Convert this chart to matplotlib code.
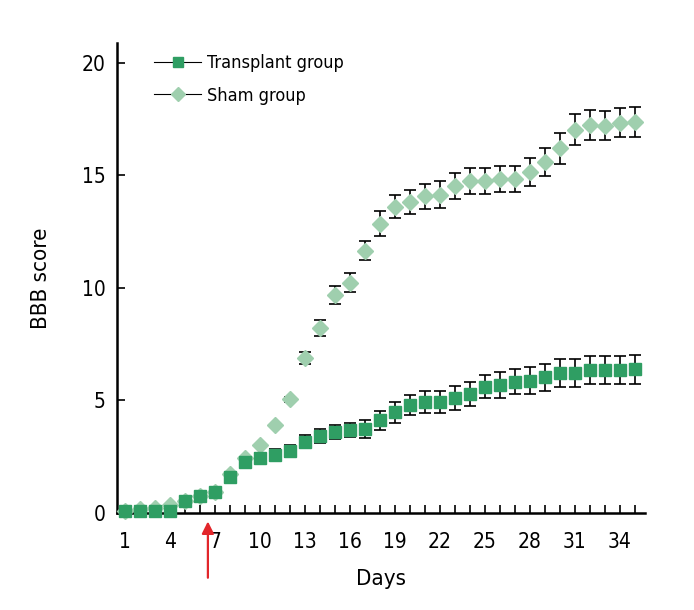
import matplotlib
matplotlib.use("Agg")
import matplotlib.pyplot as plt
from matplotlib.lines import Line2D
import numpy as np

plt.rcParams['font.family'] = ['DejaVu Sans']
plt.rcParams['font.stretch'] = 'condensed'

days = np.arange(1, 36)

transplant = [0.1, 0.1, 0.1, 0.1, 0.55, 0.77, 0.92, 1.62, 2.25, 2.43,
              2.59, 2.76, 3.17, 3.43, 3.6, 3.69, 3.74, 4.13, 4.48, 4.79,
              4.93, 4.93, 5.12, 5.28, 5.62, 5.69, 5.83, 5.88, 6.03, 6.23,
              6.23, 6.35, 6.35, 6.35, 6.38]
transplant_err = [0, 0, 0, 0, 0, 0, 0, 0.1, 0.2, 0.22,
                  0.25, 0.28, 0.3, 0.3, 0.32, 0.32, 0.41, 0.42, 0.46, 0.44,
                  0.47, 0.47, 0.53, 0.52, 0.53, 0.59, 0.56, 0.6, 0.61, 0.63,
                  0.63, 0.63, 0.63, 0.63, 0.63]

sham = [0.1, 0.17, 0.23, 0.36, 0.55, 0.77, 0.92, 1.72, 2.46, 3.03,
        3.89, 5.05, 6.88, 8.21, 9.67, 10.24, 11.66, 12.85, 13.61, 13.81,
        14.08, 14.15, 14.53, 14.75, 14.75, 14.85, 14.85, 15.16, 15.59, 16.2,
        17.03, 17.24, 17.22, 17.35, 17.38]
sham_err = [0, 0, 0, 0, 0, 0, 0, 0, 0, 0,
            0.05, 0.12, 0.28, 0.35, 0.4, 0.42, 0.43, 0.55, 0.52, 0.54,
            0.55, 0.6, 0.56, 0.57, 0.57, 0.59, 0.59, 0.61, 0.61, 0.68,
            0.68, 0.68, 0.65, 0.65, 0.65]

tick_days = [1, 4, 7, 10, 13, 16, 19, 22, 25, 28, 31, 34]

c_transplant = '#2f9e63'
c_sham = '#9fcfae'

fig = plt.figure(figsize=(6.94, 6.10), dpi=100)
ax = fig.add_axes([0.1686, 0.159, 0.7604, 0.771])

ax.errorbar(days, sham, yerr=sham_err, fmt='none', ecolor='black',
            elinewidth=1.2, capsize=4, capthick=1.2, zorder=2)
ax.errorbar(days, transplant, yerr=transplant_err, fmt='none', ecolor='black',
            elinewidth=1.2, capsize=4, capthick=1.2, zorder=2)
ax.plot(days, sham, linestyle='none', marker='D', markersize=8.5,
        color=c_sham, zorder=3, clip_on=False)
ax.plot(days, transplant, linestyle='none', marker='s', markersize=8,
        color=c_transplant, zorder=4, clip_on=False)

ax.set_xlim(0.467, 35.67)
ax.set_ylim(0, 20.9)
ax.spines['top'].set_visible(False)
ax.spines['right'].set_visible(False)
ax.spines['left'].set_linewidth(1.8)
ax.spines['bottom'].set_linewidth(1.8)

ax.set_xticks(days)
ax.set_xticklabels([str(d) if d in tick_days else '' for d in days])
ax.set_yticks([0, 5, 10, 15, 20])
ax.tick_params(axis='both', direction='in', length=6, width=1.2,
               labelsize=15, pad=8)
ax.tick_params(axis='x', pad=14)

ax.set_xlabel('Days', fontsize=16, labelpad=12)
ax.set_ylabel('BBB score', fontsize=16, labelpad=22)

handles = [
    Line2D([0], [0], color='black', lw=0.8, marker='s', markersize=7,
           markerfacecolor=c_transplant, markeredgecolor=c_transplant),
    Line2D([0], [0], color='black', lw=0.8, marker='D', markersize=7,
           markerfacecolor=c_sham, markeredgecolor=c_sham),
]
ax.legend(handles, ['Transplant group', 'Sham group'], loc='upper left',
          bbox_to_anchor=(0.04, 1.01), frameon=False, fontsize=13,
          handlelength=2.6, handletextpad=0.3, labelspacing=0.8)

ax.annotate('', xy=(6.53, -0.25), xytext=(6.53, -3.0),
            xycoords='data', textcoords='data', annotation_clip=False,
            arrowprops=dict(arrowstyle='-|>', color='#e2262b', lw=1.6,
                            mutation_scale=18))

fig.savefig('out.png', dpi=100)
